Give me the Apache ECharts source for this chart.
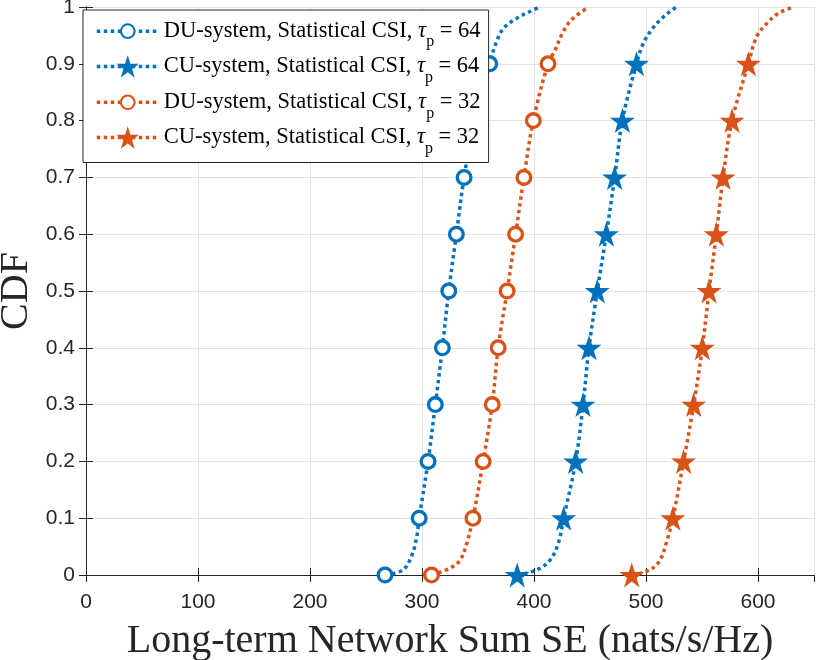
<!DOCTYPE html>
<html>
<head>
<meta charset="utf-8">
<script src="https://cdn.jsdelivr.net/npm/echarts@6/dist/echarts.min.js"></script>
<style>
  html, body { margin: 0; padding: 0; background: #fff; }
  #chart { width: 830px; height: 660px; }
</style>
</head>
<body>
<div id="chart"></div>
<script>
// CDF levels where the markers sit
var cdfLevels = [0, 0.1, 0.2, 0.3, 0.4, 0.5, 0.6, 0.7, 0.8, 0.9];

// sum SE at each CDF level (nats/s/Hz)
var du64Se = [267, 297.5, 305.4, 311.9, 318.2, 323.9, 330.7, 337.6, 347, 360.5];
var cu64Se = [385, 426.5, 437.2, 443.8, 449.1, 456.5, 464.6, 472, 478.9, 491.5];
var du32Se = [308.5, 345.5, 354.6, 362.7, 368, 376, 383.6, 391, 399.4, 412.5];
var cu32Se = [487.3, 524, 533.6, 542.6, 550.3, 556.3, 562.8, 568.8, 576.8, 591.4];

// extra curve points between markers (tails), [SE, CDF]
var du64Tail = [[283, 0.009], [291, 0.035], [295.3, 0.067], [366, 0.936], [372.6, 0.962], [384.5, 0.98], [396.4, 0.992], [405, 1]];
var cu64Tail = [[402.4, 0.009], [414.3, 0.026], [421.7, 0.056], [497.6, 0.936], [505, 0.96], [512.5, 0.977], [521.4, 0.992], [527.4, 1]];
var du32Tail = [[325, 0.012], [334, 0.026], [340, 0.056], [418.8, 0.924], [424.7, 0.951], [430.6, 0.971], [436.6, 0.983], [448.5, 1]];
var cu32Tail = [[503.6, 0.009], [512.5, 0.026], [518.5, 0.059], [598.8, 0.948], [607.8, 0.971], [618.2, 0.989], [631.5, 1]];

var seriesNames = [
  'DU-system, Statistical CSI, τp = 64',
  'CU-system, Statistical CSI, τp = 64',
  'DU-system, Statistical CSI, τp = 32',
  'CU-system, Statistical CSI, τp = 32'
];

var blue = '#0072BD';
var orange = '#D95319';
var star = 'path://M50,0 L61.8,35.1 L98.9,35.1 L68.9,56.8 L80.2,91.9 L50,70.2 L19.8,91.9 L31.1,56.8 L1.1,35.1 L38.2,35.1 Z';
// ring with padding so the circle comes out smaller than the star at the same legend size
var ring = 'path://M0,0 L0.1,0 M100,100 L99.9,100 M19.5,50 A30.5,30.5 0 1,0 80.5,50 A30.5,30.5 0 1,0 19.5,50 Z';

function buildData(se, tail) {
  var pts = se.map(function (x, i) { return { value: [x, cdfLevels[i]] }; });
  tail.forEach(function (p) { pts.push({ value: p, symbol: 'none' }); });
  pts.sort(function (a, b) { return a.value[1] - b.value[1]; });
  return pts;
}

function makeSeries(name, se, tail, color, isCircle) {
  return {
    name: name,
    type: 'line',
    data: buildData(se, tail),
    smooth: 0.35,
    symbol: isCircle ? ring : star,
    symbolSize: isCircle ? 22.4 : 25,
    showAllSymbol: true,
    color: color,
    lineStyle: { color: color, width: 3.5, type: [3.5, 3.5] },
    itemStyle: isCircle
      ? { color: '#fff', borderColor: color, borderWidth: 3.3 }
      : { color: color, borderWidth: 0 },
    z: 3
  };
}

var chart = echarts.init(document.getElementById('chart'));

var option = {
  animation: false,
  backgroundColor: '#fff',
  grid: { left: 86, right: 16, top: 7, bottom: 85, outerBoundsMode: 'none', containLabel: false },
  legend: {
    orient: 'vertical',
    left: 83,
    top: 10,
    padding: [9, 8, 6, 12],
    itemWidth: 62,
    itemHeight: 28,
    itemGap: 4.7,
    backgroundColor: '#fff',
    borderColor: '#262626',
    borderWidth: 1,
    lineStyle: { width: 3.5, type: [3.5, 3.5] },
    data: seriesNames,
    formatter: function (name) {
      var parts = name.split('τp');
      return '{t|' + parts[0] + '}{i|τ}{s|p}{t|' + parts[1] + '}';
    },
    textStyle: {
      color: '#000',
      rich: {
        t: { fontFamily: 'Liberation Serif', fontSize: 22.5, color: '#000' },
        i: { fontFamily: 'Liberation Serif', fontSize: 22.5, fontStyle: 'italic', color: '#000' },
        s: { fontFamily: 'Liberation Serif', fontSize: 16, color: '#000', padding: [22, 0, 0, 0] }
      }
    }
  },
  xAxis: [{
    type: 'value',
    min: 0,
    max: 650,
    interval: 100,
    name: 'Long-term Network Sum SE (nats/s/Hz)',
    nameLocation: 'middle',
    nameGap: 46,
    nameTextStyle: { fontFamily: 'Liberation Serif', fontSize: 40, color: '#262626' },
    axisLine: { lineStyle: { color: '#262626', width: 1 } },
    axisTick: { inside: true, length: 7, lineStyle: { color: '#262626' } },
    axisLabel: { fontFamily: 'Liberation Sans', fontSize: 21, color: '#262626', margin: 17, showMaxLabel: false },
    splitLine: { show: true, lineStyle: { color: '#e3e3e3', width: 1 } }
  }, {
    type: 'value',
    position: 'top',
    min: 0,
    max: 650,
    interval: 100,
    axisLine: { show: true, lineStyle: { color: '#262626', width: 1 } },
    axisTick: { inside: true, length: 7, lineStyle: { color: '#262626' } },
    axisLabel: { show: false },
    splitLine: { show: false }
  }],
  yAxis: [{
    type: 'value',
    min: 0,
    max: 1,
    interval: 0.1,
    name: 'CDF',
    nameLocation: 'middle',
    nameGap: 50,
    nameMoveOverlap: false,
    nameTextStyle: { fontFamily: 'Liberation Serif', fontSize: 40, color: '#262626' },
    axisLine: { show: true, lineStyle: { color: '#262626', width: 1 } },
    axisTick: { show: true, inside: true, length: 7, lineStyle: { color: '#262626' } },
    axisLabel: { fontFamily: 'Liberation Sans', fontSize: 21, color: '#262626', margin: 11 },
    splitLine: { show: true, lineStyle: { color: '#e3e3e3', width: 1 } }
  }, {
    type: 'value',
    position: 'right',
    min: 0,
    max: 1,
    interval: 0.1,
    axisLine: { show: true, lineStyle: { color: '#262626', width: 1 } },
    axisTick: { show: true, inside: true, length: 7, lineStyle: { color: '#262626' } },
    axisLabel: { show: false },
    splitLine: { show: false }
  }],
  series: [
    makeSeries(seriesNames[0], du64Se, du64Tail, blue, true),
    makeSeries(seriesNames[1], cu64Se, cu64Tail, blue, false),
    makeSeries(seriesNames[2], du32Se, du32Tail, orange, true),
    makeSeries(seriesNames[3], cu32Se, cu32Tail, orange, false)
  ]
};

chart.setOption(option);
</script>
</body>
</html>
